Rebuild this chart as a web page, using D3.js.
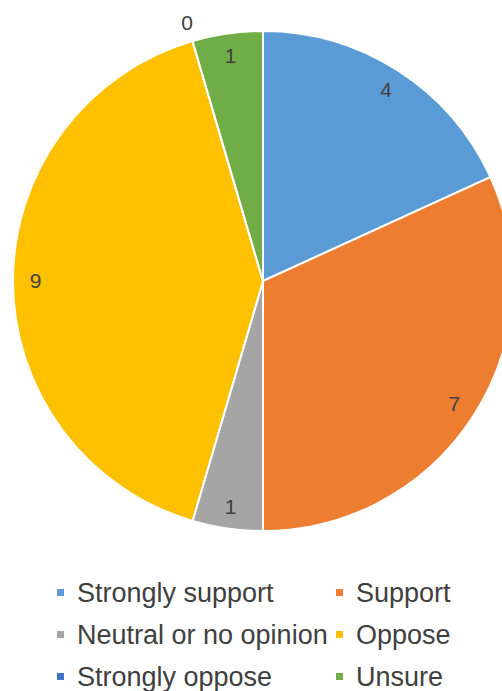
<!DOCTYPE html>
<html>
<head>
<meta charset="utf-8">
<script src="https://cdn.jsdelivr.net/npm/d3@7"></script>
<style>
    body { margin: 0; background: #fff; }
    svg text { font-family: "Liberation Sans", Arial, sans-serif; }
</style>
</head>
<body>
<svg id="pieSvg" width="502" height="691"></svg>
<script>
var categories = ["Strongly support", "Support", "Neutral or no opinion", "Oppose", "Strongly oppose", "Unsure"];
var counts = [4, 7, 1, 9, 0, 1];
var colors = ["#5B9BD5", "#ED7D31", "#A5A5A5", "#FFC000", "#4472C4", "#70AD47"];

var pieChart = (function () {
    var svg = d3.select("#pieSvg");
    var cx = 263, cy = 281, radius = 250;

    function drawPie() {
        let data = categories.map(function (c, i) {
            return { name: c, value: counts[i], color: colors[i] };
        });
        let pie = d3.pie().sort(null).value(function (d) { return d.value; });
        let arcs = pie(data);
        let arc = d3.arc().innerRadius(0).outerRadius(radius);
        let labelArc = d3.arc().innerRadius(radius * 0.91).outerRadius(radius * 0.91);
        let outArc = d3.arc().innerRadius(radius + 19).outerRadius(radius + 19);

        let g = svg.append("g").attr("transform", "translate(" + cx + "," + cy + ")");
        g.selectAll("path").data(arcs).enter()
            .append("path")
            .attr("d", arc)
            .style("fill", function (d) { return d.data.color; })
            .attr("stroke", "#fff")
            .attr("stroke-width", 2);

        // 数据标签
        g.selectAll("text").data(arcs).enter()
            .append("text")
            .attr("transform", function (d) {
                let p = d.value === 0 ? outArc.centroid(d) : labelArc.centroid(d);
                return "translate(" + p[0] + "," + p[1] + ")";
            })
            .attr("text-anchor", "middle")
            .attr("dy", "0.35em")
            .attr("font-size", 21)
            .attr("fill", "#404040")
            .text(function (d) { return d.value; });
    }

    function drawLegend() {
        let colX = [57, 336], rowY = [593, 635, 677];
        let lg = svg.append("g");
        let items = lg.selectAll("g").data(categories).enter()
            .append("g")
            .attr("transform", function (d, i) {
                return "translate(" + colX[i % 2] + "," + rowY[Math.floor(i / 2)] + ")";
            });
        items.append("rect")
            .attr("x", 0).attr("y", -4)
            .attr("width", 7).attr("height", 7)
            .style("fill", function (d, i) { return colors[i]; });
        items.append("text")
            .attr("x", 20)
            .attr("dy", "0.35em")
            .attr("font-size", 27)
            .attr("fill", "#404040")
            .text(function (d) { return d; });
    }

    return { drawPie, drawLegend };
})();

pieChart.drawPie();
pieChart.drawLegend();
</script>
</body>
</html>
